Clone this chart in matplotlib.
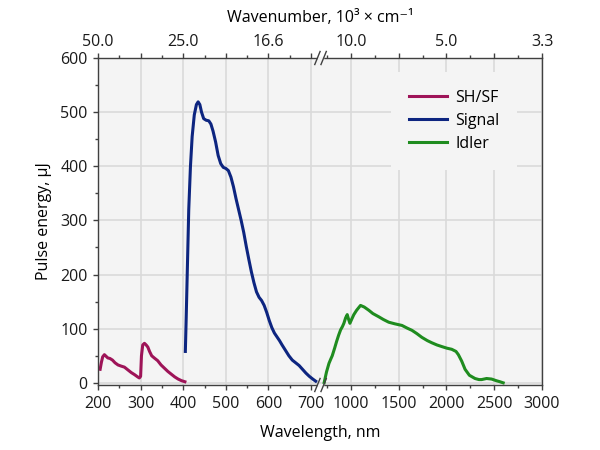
import numpy as np
import matplotlib.pyplot as plt
from matplotlib.ticker import FixedLocator, FixedFormatter

plt.rcParams['font.family'] = ['Open Sans', 'DejaVu Sans']
plt.rcParams['font.size'] = 11.5

# data (wavelength nm, pulse energy uJ)
shsf_nm = [205, 208, 211, 215, 219, 223, 228, 234, 240, 247, 254, 262, 270, 278, 286, 293, 297, 300, 302, 305, 309, 313, 317, 321,
           326, 332, 340, 348, 356, 364, 372, 380, 388, 396, 404]
shsf_uj = [25, 38, 48, 52, 49, 46, 45, 42, 37, 33, 31, 29, 24, 19, 15, 11, 9, 12, 50, 70, 73, 70, 66, 58,
           50, 46, 41, 33, 27, 21, 16, 11, 7, 4, 2]

signal_nm = [405, 407, 410, 413, 417, 421, 426, 431, 435, 439, 443, 448, 454, 460, 465, 470, 476, 482, 488, 494, 500, 506, 512,
             518, 524, 530, 536, 542, 548, 554, 560, 566, 572, 578, 584, 590, 596, 602, 608, 614, 620, 626, 632, 640, 648,
             656, 664, 672, 680, 688, 696, 704, 711]
signal_uj = [58, 120, 220, 320, 400, 455, 495, 514, 519, 514, 500, 488, 485, 484, 478, 465, 445, 420, 405, 398, 396, 392, 380,
             362, 340, 320, 300, 278, 252, 228, 205, 185, 168, 158, 152, 143, 130, 115, 102, 92, 85, 78, 70, 60, 50,
             42, 37, 32, 25, 18, 12, 7, 3]

idler_nm = [720, 745, 771, 790, 805, 830, 850, 872, 893, 912, 927, 945, 962, 975, 990, 1010, 1031, 1060, 1101, 1140, 1188, 1230,
            1292, 1340, 1396, 1460, 1535, 1590, 1639, 1690, 1743, 1800, 1847, 1900, 1951, 2005, 2055, 2100, 2125, 2160,
            2195, 2240, 2299, 2340, 2368, 2420, 2472, 2521, 2560, 2594]
idler_uj = [0, 20, 36, 44, 50, 64, 76, 88, 98, 104, 110, 120, 126, 118, 110, 118, 126, 134, 143, 140, 134, 128,
            122, 117, 112, 109, 106, 101, 97, 91, 84, 78, 74, 70, 67, 64, 62, 58, 52, 40,
            25, 14, 8, 6, 6, 8, 7, 4, 2, 0]

bottom_major = [200, 300, 400, 500, 600, 700, 1000, 1500, 2000, 2500, 3000]
bottom_minor = [250, 350, 450, 550, 650, 750, 1250, 1750, 2250, 2750]
top_labels = ['50.0', '', '25.0', '', '16.6', '', '10.0', '', '5.0', '', '3.3']

# broken wavelength axis: 200-715 linear, then compressed from ~715 to 3000
BRK = 715.0
R = 0.2243
U1000 = 793.5


def fwd(x):
    x = np.asarray(x, dtype=float)
    return np.where(x <= BRK, x, U1000 + (x - 1000.0) * R)


def inv(u):
    u = np.asarray(u, dtype=float)
    return np.where(u <= BRK + 7, u, 1000.0 + (u - U1000) / R)


fig = plt.figure(figsize=(6, 4.5), dpi=100)
ax = fig.add_axes([98 / 600, 1 - 385 / 450, 444 / 600, 327 / 450])
ax.set_facecolor('#f4f4f4')
ax.set_xscale('function', functions=(fwd, inv))

ax.plot(shsf_nm, shsf_uj, color='#9e1458', lw=2.2, label='SH/SF')
ax.plot(signal_nm, signal_uj, color='#0d2580', lw=2.2, label='Signal')
ax.plot(idler_nm, idler_uj, color='#1f8c1f', lw=2.2, label='Idler')

ax.set_xlim(200, 3000)
ax.set_ylim(-4, 600)
ax.xaxis.set_major_locator(FixedLocator(bottom_major))
ax.xaxis.set_major_formatter(FixedFormatter([str(v) for v in bottom_major]))
ax.xaxis.set_minor_locator(FixedLocator(bottom_minor))
ax.set_yticks(range(0, 601, 100))
ax.set_yticks(range(50, 600, 100), minor=True)
ax.grid(True, which='major', color='#dadada', lw=1.2)
ax.set_axisbelow(True)

ax.tick_params(which='major', direction='out', length=3.5, width=1, color='#404040', labelcolor='#1a1a1a')
ax.tick_params(which='minor', direction='out', length=2, width=1, color='#404040')
ax.tick_params(axis='x', which='major', pad=4.5)
ax.tick_params(axis='y', which='major', pad=4)
for s in ax.spines.values():
    s.set_color('#404040')
    s.set_linewidth(1.0)

ax.set_xlabel('Wavelength, nm', labelpad=9)
ax.set_ylabel('Pulse energy, μJ', labelpad=6)

ax2 = ax.twiny()
ax2.set_xscale('function', functions=(fwd, inv))
ax2.set_xlim(ax.get_xlim())
ax2.xaxis.set_major_locator(FixedLocator(bottom_major))
ax2.xaxis.set_major_formatter(FixedFormatter(top_labels))
ax2.xaxis.set_minor_locator(FixedLocator(bottom_minor))
ax2.tick_params(which='major', direction='out', length=3.5, width=1, color='#404040', labelcolor='#1a1a1a', pad=2)
ax2.tick_params(which='minor', direction='out', length=2, width=1, color='#404040')
ax2.set_xlabel('Wavenumber, 10³ × cm⁻¹', labelpad=9)
for s in ax2.spines.values():
    s.set_visible(False)

leg = ax.legend(loc='upper right', bbox_to_anchor=((517 - 98) / 444, (385 - 72) / 327), borderaxespad=0,
                frameon=True, facecolor='#f4f4f4', edgecolor='none', framealpha=1, fancybox=False,
                handlelength=2.4, handletextpad=0.5, labelspacing=0.45, borderpad=1.1)

# break marks on top and bottom spines
u0, u1 = fwd(200), fwd(3000)
mid = (fwd(BRK) + fwd(BRK + 1e-6)) / 2
fx = float((mid - u0) / (u1 - u0))
for yy in (0, 1):
    ax.plot([fx - 0.004, fx + 0.004], [yy, yy], transform=ax.transAxes, color='#f4f4f4', lw=2.5,
            clip_on=False, zorder=5)
    for dx in (-0.007, 0.007):
        ax.plot([fx + dx - 0.006, fx + dx + 0.006], [yy - 0.02, yy + 0.02], transform=ax.transAxes,
                color='#404040', lw=1.0, clip_on=False, zorder=6)

fig.savefig('out.png', dpi=100)
